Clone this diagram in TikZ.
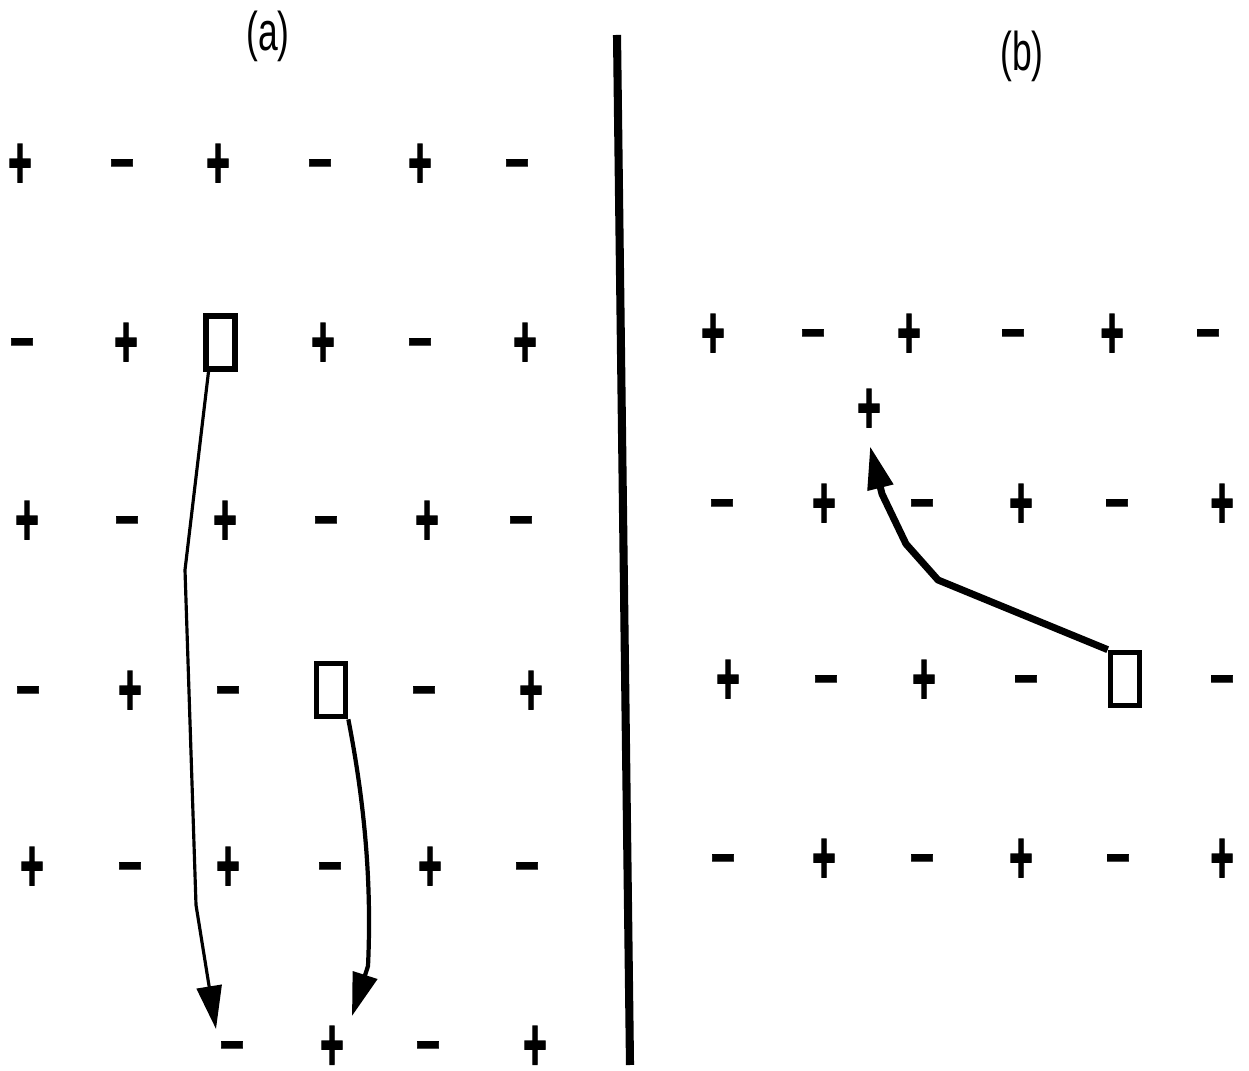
\documentclass[tikz,border=0pt]{standalone}
\usepackage{fontspec}
\setmainfont{Liberation Sans}
\newfontfamily\chgfam{Liberation Sans Bold}[FakeBold=1.6]
\usetikzlibrary{arrows.meta}
\newcommand{\chgfont}{\fontsize{11.6}{12}\selectfont\chgfam}
\tikzset{
  chg/.style={inner sep=0pt, font=\chgfont},
  chgp/.style={chg, text height=14.4pt, node contents={\scalebox{1}[1.85]{+}}},
  chgm/.style={chg, text height=9.9pt, node contents={\scalebox{1.05}[1.6]{\textendash}}},
  vac/.style={draw, line width=1.6pt, minimum width=0.29cm, minimum height=0.53cm, inner sep=0pt},
  hop/.style={-{Triangle[length=0.43cm,width=0.25cm]}, line join=round},
  lbl/.style={font=\fontsize{15.5}{16}\selectfont}
}
\begin{document}
\begin{tikzpicture}[x=0.01cm, y=-0.01cm]
\useasboundingbox (0,0) rectangle (1249,1071);
% panel labels
\node[lbl] (la) at (268,36) {\scalebox{0.65}[1]{(a)}};
\node[lbl] (lb) at (1022,56) {\scalebox{0.65}[1]{(b)}};
% divider
\draw[line width=2.3pt] (617,35) -- (630,1065);
% (a) ionic lattice
\foreach \x/\q [count=\i] in {20/chgp,122/chgm,218/chgp,320/chgm,420/chgp,517/chgm}
  \node[name=a1-\i, at={(\x,163)}, \q];
\foreach \x/\q [count=\i] in {22/chgm,126/chgp,323/chgp,420/chgm,525/chgp}
  \node[name=a2-\i, at={(\x,342)}, \q];
\foreach \x/\q [count=\i] in {27/chgp,127/chgm,225/chgp,326/chgm,427/chgp,521/chgm}
  \node[name=a3-\i, at={(\x,520)}, \q];
\foreach \x/\q [count=\i] in {28/chgm,130/chgp,228/chgm,424/chgm,531/chgp}
  \node[name=a4-\i, at={(\x,690)}, \q];
\foreach \x/\q [count=\i] in {32/chgp,130/chgm,228/chgp,330/chgm,430/chgp,527/chgm}
  \node[name=a5-\i, at={(\x,866)}, \q];
\foreach \x/\q [count=\i] in {232/chgm,332/chgp,428/chgm,535/chgp}
  \node[name=a6-\i, at={(\x,1045)}, \q];
\node[vac] (va1) at (220.5,342.5) {};
\node[vac] (va2) at (331,690) {};
% (b) ionic lattice
\foreach \x/\q [count=\i] in {713/chgp,813/chgm,909/chgp,1013/chgm,1112/chgp,1208/chgm}
  \node[name=b1-\i, at={(\x,333)}, \q];
\node[name=bi, at={(869,408)}, chgp];
\foreach \x/\q [count=\i] in {722/chgm,824/chgp,922/chgm,1021/chgp,1117/chgm,1222/chgp}
  \node[name=b2-\i, at={(\x,503)}, \q];
\foreach \x/\q [count=\i] in {728/chgp,826/chgm,924/chgp,1026/chgm,1222/chgm}
  \node[name=b3-\i, at={(\x,679)}, \q];
\foreach \x/\q [count=\i] in {723/chgm,824/chgp,922/chgm,1021/chgp,1118/chgm,1222/chgp}
  \node[name=b4-\i, at={(\x,858)}, \q];
\node[vac] (vb) at (1125,679) {};
% jumps
\coordinate (t1) at (216,1029);
\coordinate (t2) at (352,1016);
\coordinate (t3) at (870,446);
\draw[hop, line width=0.9pt] ([xshift=-0.12cm]va1.south) -- (185,570) -- (196,905) -- (t1);
\draw[hop, line width=1.2pt] (va2.south east) .. controls (364,800) and (372,880) .. (368,966) -- (t2);
\draw[hop, line width=2pt] (vb.north west) -- (938,580) -- (906,544) -- (882,494) -- (t3);
\end{tikzpicture}
\end{document}
